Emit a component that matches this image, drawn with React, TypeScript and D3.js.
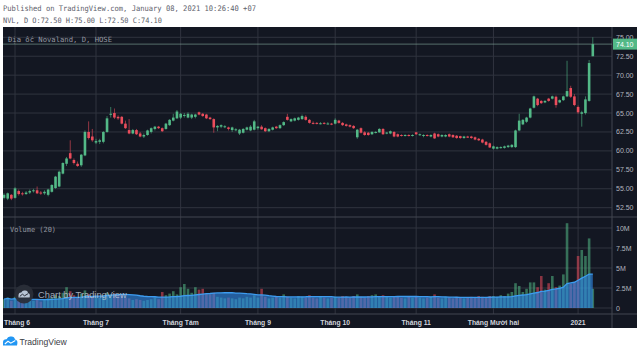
import React from 'react';
import * as d3 from 'd3';

// [open, high, low, close] per trading day
const candlesMay: [number, number, number, number][] = [
  [53.8, 54.4, 53.6, 54.2], [53.7, 54.5, 53.5, 54.4], [54.2, 54.3, 53.5, 53.7],
];
const candlesJun: [number, number, number, number][] = [
  [53.8, 55.2, 53.7, 55.05], [54.7, 54.9, 54.1, 54.3], [54.4, 54.6, 54.1, 54.3], [54.3, 54.7, 54.2, 54.5],
  [54.5, 54.9, 54.3, 54.7], [54.7, 55.0, 54.5, 54.8], [54.8, 55.3, 54.3, 54.4], [54.5, 54.7, 54.2, 54.4],
  [54.4, 54.8, 54.2, 54.6], [54.2, 55.0, 54.0, 54.9], [54.6, 55.6, 54.5, 55.5], [55.1, 56.7, 55.0, 56.6],
  [55.3, 57.4, 55.2, 57.25], [57.0, 58.5, 56.9, 58.4], [58.3, 59.2, 58.0, 59.0], [59.7, 61.4, 58.9, 59.0],
  [58.8, 59.0, 58.2, 58.4], [58.3, 58.6, 57.9, 58.0], [58.1, 59.6, 57.9, 59.5], [59.4, 62.7, 59.3, 62.5],
  [62.5, 63.9, 61.5, 61.7], [61.9, 62.9, 61.2, 61.4],
];
const candlesJul: [number, number, number, number][] = [
  [61.1, 61.6, 60.9, 61.3], [61.2, 61.6, 60.9, 61.4], [61.2, 62.6, 61.0, 62.5], [62.5, 64.6, 62.4, 64.3],
  [64.8, 65.8, 64.4, 64.9], [65.0, 65.6, 64.2, 64.4], [64.5, 64.7, 64.1, 64.3], [64.5, 64.6, 63.5, 63.6],
  [63.6, 64.0, 62.9, 63.0], [62.75, 64.2, 62.2, 62.3], [62.3, 62.9, 62.2, 62.75], [62.75, 62.9, 62.1, 62.2],
  [62.3, 62.5, 61.8, 61.9], [61.9, 62.3, 61.7, 62.1], [62.1, 62.8, 62.0, 62.7], [62.5, 63.1, 62.3, 63.0],
  [62.9, 63.3, 62.7, 63.2], [63.2, 63.3, 62.9, 63.0], [63.0, 63.1, 62.5, 62.6], [62.9, 63.7, 62.8, 63.6],
  [63.4, 64.2, 63.3, 64.1], [64.0, 64.9, 63.9, 64.4], [64.3, 65.4, 64.2, 65.2],
];
const candlesAug: [number, number, number, number][] = [
  [64.4, 65.0, 64.2, 64.9], [64.7, 65.0, 64.4, 64.75], [64.4, 65.1, 64.3, 64.9], [64.4, 64.9, 64.2, 64.8],
  [64.5, 64.9, 64.3, 64.8], [65.1, 65.2, 64.7, 64.8], [64.9, 65.0, 64.5, 64.6], [64.8, 64.9, 64.2, 64.3],
  [64.4, 64.5, 64.1, 64.2], [64.2, 64.3, 62.4, 63.1], [63.1, 63.4, 62.6, 63.3], [63.2, 63.5, 63.0, 63.4],
  [63.2, 63.4, 63.0, 63.25], [63.1, 63.2, 62.7, 62.9], [62.75, 63.2, 62.5, 63.1], [62.8, 63.0, 62.6, 62.85],
  [62.3, 62.9, 62.1, 62.8], [62.4, 63.0, 62.3, 62.9], [62.8, 63.2, 62.7, 63.1], [62.7, 63.4, 62.6, 63.2],
  [62.8, 64.1, 62.7, 63.9],
];
const candlesSep: [number, number, number, number][] = [
  [63.0, 63.3, 62.8, 63.2], [63.2, 63.4, 62.8, 62.85], [63.0, 63.1, 62.5, 62.6], [62.6, 63.0, 62.5, 62.9],
  [62.8, 63.2, 62.7, 63.1], [63.2, 63.3, 62.9, 63.0], [63.0, 63.5, 62.9, 63.4], [63.4, 63.9, 63.3, 63.8],
  [64.5, 64.9, 64.0, 64.1], [63.9, 64.3, 63.8, 64.2], [64.0, 64.4, 63.9, 64.3], [64.1, 64.5, 64.0, 64.4],
  [64.2, 64.8, 64.1, 64.6], [64.5, 64.7, 64.0, 64.1], [64.1, 64.2, 63.6, 63.7], [63.7, 63.9, 63.5, 63.65],
  [63.7, 63.8, 63.5, 63.6], [63.6, 63.8, 63.5, 63.65], [63.7, 63.8, 63.5, 63.6], [63.6, 63.8, 63.5, 63.62],
  [63.6, 63.7, 63.4, 63.55],
];
const candlesOct: [number, number, number, number][] = [
  [63.6, 64.3, 63.5, 64.1], [64.0, 64.1, 63.6, 63.7], [63.7, 63.8, 63.3, 63.4], [63.5, 63.6, 63.2, 63.3],
  [63.4, 63.5, 63.1, 63.2], [63.3, 63.4, 62.9, 63.0], [61.8, 62.9, 61.6, 62.8], [63.0, 63.1, 62.3, 62.4],
  [62.45, 62.6, 62.0, 62.1], [62.4, 62.5, 62.0, 62.1], [62.2, 62.6, 62.1, 62.5], [62.45, 62.6, 62.3, 62.5],
  [62.45, 63.0, 62.4, 62.9], [62.9, 63.0, 62.1, 62.2], [62.4, 62.5, 62.2, 62.42], [62.3, 62.7, 62.2, 62.6],
  [62.5, 62.6, 61.8, 61.9], [62.2, 62.3, 61.8, 61.9], [62.1, 62.2, 61.9, 62.0], [62.0, 62.2, 61.9, 62.1],
  [62.1, 62.2, 61.9, 62.0], [62.0, 62.2, 61.9, 62.1],
];
const candlesNov: [number, number, number, number][] = [
  [62.45, 62.5, 62.1, 62.2], [62.1, 62.3, 62.0, 62.2], [62.0, 62.2, 61.8, 62.1], [62.1, 62.2, 61.9, 62.05],
  [61.9, 62.2, 61.8, 62.1], [62.3, 62.4, 61.6, 61.65], [62.2, 62.3, 61.8, 61.9], [61.9, 62.2, 61.8, 62.1],
  [61.9, 62.2, 61.8, 62.1], [62.2, 62.3, 61.8, 61.9], [62.1, 62.2, 61.7, 61.8], [62.0, 62.1, 61.6, 61.7],
  [61.95, 62.0, 61.6, 61.7], [61.7, 62.0, 61.6, 61.9], [61.9, 62.0, 61.7, 61.75], [61.9, 62.0, 61.6, 61.7],
  [61.8, 61.9, 61.4, 61.5], [61.6, 61.7, 61.3, 61.4], [61.5, 61.6, 61.0, 61.1], [61.2, 61.3, 60.7, 60.8],
  [61.0, 61.1, 60.4, 60.45],
];
const candlesDec: [number, number, number, number][] = [
  [60.3, 60.7, 60.2, 60.6], [60.3, 60.6, 60.2, 60.5], [60.4, 60.6, 60.3, 60.5], [60.4, 60.7, 60.3, 60.6],
  [60.5, 60.8, 60.4, 60.7], [60.5, 60.9, 60.4, 60.8], [60.5, 62.8, 60.4, 62.7], [62.7, 64.9, 62.6, 64.0],
  [63.5, 64.2, 63.4, 64.1], [63.85, 64.5, 63.7, 64.4], [64.4, 65.7, 64.3, 65.6], [65.7, 67.3, 65.6, 67.2],
  [66.9, 67.0, 65.9, 66.05], [66.6, 66.7, 66.2, 66.3], [66.4, 66.7, 66.3, 66.6], [66.9, 67.0, 66.5, 66.6],
  [66.9, 67.3, 66.8, 67.2], [67.15, 67.3, 65.7, 66.05], [66.4, 66.8, 66.3, 66.7], [66.7, 67.3, 66.6, 67.2],
  [67.2, 71.9, 67.1, 67.9], [68.3, 68.6, 67.0, 67.15], [67.2, 67.5, 65.9, 66.05],
];
const candlesJan: [number, number, number, number][] = [
  [65.8, 66.0, 64.9, 65.1], [64.9, 65.3, 63.2, 65.1], [65.0, 67.2, 64.8, 66.8], [66.6, 72.0, 66.5, 71.6],
  [72.5, 75.0, 72.5, 74.1],
];

// Volume in millions
const volumeMay = [1.1, 1.3, 0.9];
const volumeJun = [1.4, 1.0, 0.9, 1.2, 1.1, 0.9, 1.0, 0.8, 1.0, 1.2, 1.3, 1.6, 1.5, 1.9, 2.6, 2.1, 1.6, 1.3, 1.8, 2.2, 1.7, 1.5];
const volumeJul = [1.4, 1.3, 1.6, 1.9, 1.7, 1.8, 1.5, 1.6, 1.3, 1.2, 1.0, 1.1, 1.0, 0.9, 1.0, 1.1, 1.3, 1.1, 2.0, 1.6, 1.8, 2.1, 1.7];
const volumeAug = [2.6, 3.0, 2.4, 1.9, 2.6, 2.3, 2.4, 1.8, 1.7, 1.9, 1.4, 1.3, 1.2, 1.3, 1.2, 1.1, 1.3, 1.2, 1.4, 1.3, 1.6];
const volumeSep = [1.3, 2.4, 1.4, 1.2, 1.3, 1.5, 1.3, 1.7, 1.4, 1.3, 1.2, 1.5, 1.4, 1.3, 1.6, 1.3, 1.2, 1.4, 1.3, 1.2, 1.3];
const volumeOct = [1.4, 1.3, 1.5, 1.4, 1.3, 1.5, 1.7, 1.4, 1.3, 1.5, 1.6, 1.7, 1.5, 1.6, 1.4, 1.3, 1.4, 1.5, 1.3, 1.2, 1.4, 1.3];
const volumeNov = [1.4, 1.3, 1.2, 1.3, 1.4, 1.7, 1.3, 1.2, 1.4, 1.3, 1.2, 1.4, 1.3, 1.2, 1.3, 1.4, 1.3, 1.5, 1.4, 1.3, 1.5];
const volumeDec = [1.5, 1.4, 1.6, 1.5, 1.8, 2.0, 3.1, 2.75, 2.0, 2.4, 3.2, 3.2, 2.6, 4.0, 2.3, 3.1, 4.0, 2.6, 2.8, 4.2, 10.6, 3.0, 3.2];
const volumeJan = [6.5, 7.25, 6.5, 8.7, 2.4];

const monthTickIndex = [3, 25, 48, 69, 90, 112, 133, 156];
const monthTickLabels = ['Tháng 6', 'Tháng 7', 'Tháng Tám', 'Tháng 9', 'Tháng 10', 'Tháng 11', 'Tháng Mười hai', '2021'];
const priceTicks = [75, 72.5, 70, 67.5, 65, 62.5, 60, 57.5, 55, 52.5];
const volumeTicks = [10, 7.5, 5, 2.5, 0];
const volumeTickLabels = ['10M', '7.5M', '5M', '2.5M', '0'];
const lastPrice = 74.1;
const maLength = 20;

const UP = '#53b987';
const DOWN = '#eb4d5c';
const BG = '#131722';
const GRID = '#30343f';
const AXIS_TEXT = '#b2b5be';

export default function App() {
  const candles = [
    ...candlesMay, ...candlesJun, ...candlesJul, ...candlesAug, ...candlesSep,
    ...candlesOct, ...candlesNov, ...candlesDec, ...candlesJan,
  ];
  const volumes = [
    ...volumeMay, ...volumeJun, ...volumeJul, ...volumeAug, ...volumeSep,
    ...volumeOct, ...volumeNov, ...volumeDec, ...volumeJan,
  ];
  const n = candles.length;

  const plotL = 3, plotR = 612, paneTop = 27, paneSep = 217, timeTop = 314, panelBottom = 328;
  const x = d3.scaleLinear().domain([0, n - 1]).range([4, 592.8]);
  const y = d3.scaleLinear().domain([52.5, 75]).range([207.7, 37.3]);
  const yv = d3.scaleLinear().domain([0, 10]).range([308, 228]);
  const bw = 2.6;

  const ma = volumes.map((_, i) => d3.mean(volumes.slice(Math.max(0, i - maLength + 1), i + 1)) as number);
  const maArea = d3.area<number>().x((_, i) => x(i)).y0(yv(0)).y1(d => yv(d));
  const maLine = d3.line<number>().x((_, i) => x(i)).y(d => yv(d));

  const mono = '"DejaVu Sans Mono", "Liberation Mono", monospace';
  const sans = '"Liberation Sans", Arial, sans-serif';

  return (
    <svg width={640} height={352} style={{ position: 'fixed', left: 0, top: 0, background: '#fff' }}
      xmlns="http://www.w3.org/2000/svg">
      <defs>
        <clipPath id="pricePane"><rect x={plotL} y={paneTop} width={plotR - plotL} height={paneSep - paneTop} /></clipPath>
        <clipPath id="volPane"><rect x={plotL} y={paneSep} width={plotR - plotL} height={timeTop - paneSep} /></clipPath>
      </defs>
      <rect x={0} y={0} width={640} height={352} fill="#fff" />
      {/* header */}
      <text x={3} y={11.3} fontFamily={mono} fontSize={7.6} fill="#5d606b" textLength={253} lengthAdjust="spacingAndGlyphs">
        Published on TradingView.com, January 08, 2021 10:26:40 +07
      </text>
      <text x={3} y={22.5} fontFamily={mono} fontSize={7.4} fill="#5d606b" textLength={159} lengthAdjust="spacingAndGlyphs">
        NVL, D O:72.50 H:75.00 L:72.50 C:74.10
      </text>

      {/* dark panel */}
      <rect x={3} y={paneTop} width={634} height={panelBottom - paneTop} fill={BG} />

      {/* grid */}
      {monthTickIndex.map((t, i) => (
        <line key={'vg' + i} x1={x(t)} x2={x(t)} y1={paneTop} y2={timeTop} stroke={GRID} strokeWidth={1} />
      ))}
      {priceTicks.map((p, i) => (
        <line key={'hg' + i} x1={plotL} x2={plotR} y1={y(p)} y2={y(p)} stroke={GRID} strokeWidth={1} />
      ))}
      {volumeTicks.map((v, i) => (
        <line key={'vhg' + i} x1={plotL} x2={plotR} y1={yv(v)} y2={yv(v)} stroke={GRID} strokeWidth={1} />
      ))}
      <line x1={plotL} x2={637} y1={paneSep} y2={paneSep} stroke="#434651" strokeWidth={1} />
      <line x1={plotL} x2={637} y1={timeTop} y2={timeTop} stroke="#434651" strokeWidth={1} />
      <line x1={plotR} x2={plotR} y1={paneTop} y2={panelBottom} stroke="#434651" strokeWidth={1} />

      {/* last price line */}
      <line x1={plotL} x2={plotR} y1={y(lastPrice)} y2={y(lastPrice)} stroke="#7fa395" strokeWidth={0.8} opacity={0.8} />

      {/* candles */}
      <g clipPath="url(#pricePane)">
        {candles.map(([o, h, l, c], i) => {
          const col = c >= o ? UP : DOWN;
          const top = y(Math.max(o, c));
          const bh = Math.max(1, y(Math.min(o, c)) - top);
          return (
            <g key={'c' + i}>
              <line x1={x(i)} x2={x(i)} y1={y(h)} y2={y(l)} stroke={col} strokeWidth={0.8} opacity={0.75} />
              <rect x={x(i) - bw / 2} y={top} width={bw} height={bh} fill={col} />
            </g>
          );
        })}
      </g>

      {/* volume */}
      <g clipPath="url(#volPane)">
        {volumes.map((v, i) => {
          const [o, , , c] = candles[i];
          const col = c >= o ? UP : DOWN;
          return (
            <rect key={'v' + i} x={x(i) - bw / 2} y={yv(v)} width={bw} height={yv(0) - yv(v)}
              fill={col} opacity={0.55} />
          );
        })}
        <path d={maArea(ma) || ''} fill="#2f8ae8" opacity={0.62} />
        <path d={maLine(ma) || ''} fill="none" stroke="#3d9cf0" strokeWidth={1.3} />
      </g>

      {/* pane labels */}
      <text x={8} y={41.5} fontFamily={mono} fontSize={7.2} fill="#9598a1" textLength={104} lengthAdjust="spacingAndGlyphs">Địa ốc Novaland, D, HOSE</text>
      <text x={10} y={231.5} fontFamily={mono} fontSize={7.2} fill="#9598a1" textLength={46} lengthAdjust="spacingAndGlyphs">Volume (20)</text>

      {/* watermark */}
      <g>
        <circle cx={24} cy={294} r={9.5} fill="#2a2e39" opacity={0.95} />
        <path d="M18.5,297.5 L18.5,295.5 Q18.5,292.5 21.3,292.6 Q22.5,289.8 25.4,290.6 Q27.6,290.6 28.1,293 Q30.2,293.5 29.9,296 L29.6,297.5 Z"
          fill="#b8c4d4" />
        <path d="M19.8,296.4 L22.4,294.2 L24.6,295.8 L28.2,293.6" fill="none" stroke="#2a2e39" strokeWidth={1} />
      </g>
      <text x={38} y={297.5} fontFamily={sans} fontSize={9.3} fill="#c3cddb" opacity={0.8}>Chart by TradingView</text>

      {/* price axis */}
      {priceTicks.map((p, i) => (
        <text key={'pt' + i} x={616} y={y(p) + 2.5} fontFamily={sans} fontSize={7} fill={AXIS_TEXT}>
          {d3.format('.2f')(p)}
        </text>
      ))}
      <rect x={613} y={y(lastPrice) - 5.5} width={24} height={11} fill={UP} />
      <text x={616} y={y(lastPrice) + 2.5} fontFamily={sans} fontSize={7} fill="#fff">{d3.format('.2f')(lastPrice)}</text>

      {/* volume axis */}
      {volumeTicks.map((v, i) => (
        <text key={'vt' + i} x={616} y={yv(v) + 2.5} fontFamily={sans} fontSize={7} fill={AXIS_TEXT}>
          {volumeTickLabels[i]}
        </text>
      ))}

      {/* time axis */}
      {monthTickIndex.map((t, i) => (
        <text key={'tt' + i} x={i === 0 ? 4 : x(t)} y={325} textAnchor={i === 0 ? 'start' : 'middle'}
          fontFamily={sans} fontSize={6.8} fontWeight="bold" fill="#d1d4dc">
          {monthTickLabels[i]}
        </text>
      ))}

      {/* footer logo */}
      <path d="M3,345.5 L3,342.5 Q3,339 6.6,339.2 Q8,335.6 11.6,336.6 Q14.4,336.6 15,339.6 Q17.8,340.2 17.4,343.3 L17,345.5 Z"
        fill="#2196f3" />
      <path d="M4.8,344 L8,341.3 L10.8,343.2 L15.3,340.6" fill="none" stroke="#fff" strokeWidth={1.1} />
      <text x={19.5} y={344.5} fontFamily={sans} fontSize={8.6} fill="#3a3d45">TradingView</text>
    </svg>
  );
}
